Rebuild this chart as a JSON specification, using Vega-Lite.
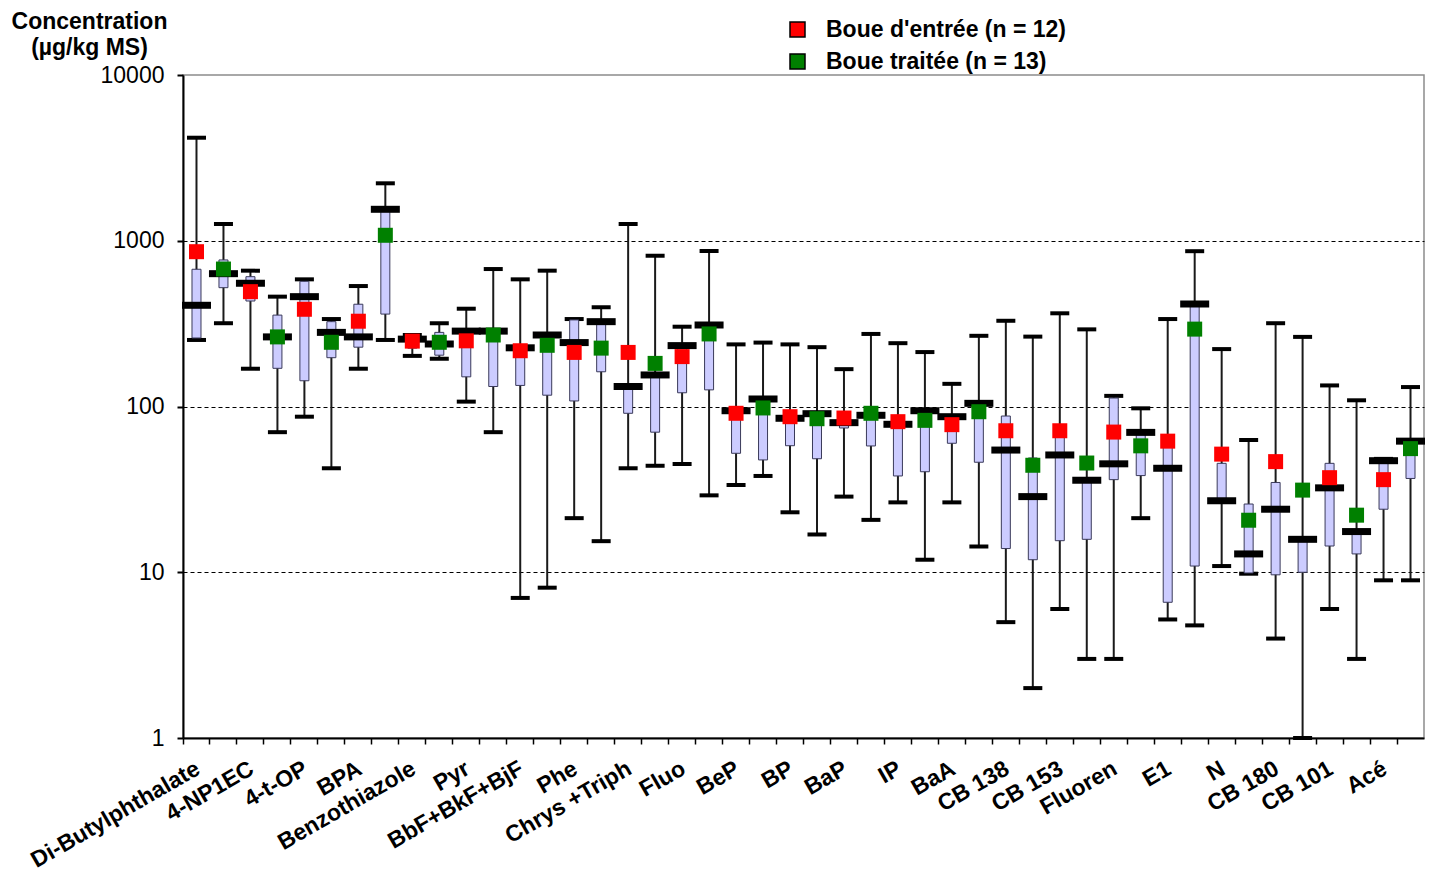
{
  "$schema": "https://vega.github.io/schema/vega-lite/v6.json",
  "width": 1241,
  "height": 663,
  "autosize": {"type": "none"},
  "padding": {"left": 183, "top": 75, "right": 9, "bottom": 144},
  "background": "white",
  "config": {"font": "Liberation Sans", "view": {"stroke": "#8c8c8c", "strokeWidth": 1.5}},
  "data": {"values": [
    {"cat": "Di-Butylphthalate", "g": "Boue d'entrée (n = 12)", "min": 252, "lo": 259, "med": 408, "hi": 673, "max": 4184, "mean": 859},
    {"cat": "Di-Butylphthalate", "g": "Boue traitée (n = 13)", "min": 318, "lo": 521, "med": 633, "hi": 766, "max": 1262, "mean": 675},
    {"cat": "4-NP1EC", "g": "Boue d'entrée (n = 12)", "min": 169, "lo": 433, "med": 554, "hi": 607, "max": 660, "mean": 493},
    {"cat": "4-NP1EC", "g": "Boue traitée (n = 13)", "min": 70, "lo": 170, "med": 263, "hi": 356, "max": 460, "mean": 263},
    {"cat": "4-t-OP", "g": "Boue d'entrée (n = 12)", "min": 86.8, "lo": 143, "med": 460, "hi": 569, "max": 585, "mean": 386},
    {"cat": "4-t-OP", "g": "Boue traitée (n = 13)", "min": 42.4, "lo": 197, "med": 280, "hi": 325, "max": 337, "mean": 244},
    {"cat": "BPA", "g": "Boue d'entrée (n = 12)", "min": 169, "lo": 228, "med": 263, "hi": 414, "max": 533, "mean": 327},
    {"cat": "BPA", "g": "Boue traitée (n = 13)", "min": 252, "lo": 361, "med": 1548, "hi": 1548, "max": 2221, "mean": 1079},
    {"cat": "Benzothiazole", "g": "Boue d'entrée (n = 12)", "min": 202, "lo": 225, "med": 255, "hi": 263, "max": 270, "mean": 248},
    {"cat": "Benzothiazole", "g": "Boue traitée (n = 13)", "min": 194, "lo": 204, "med": 238, "hi": 280, "max": 318, "mean": 244},
    {"cat": "Pyr", "g": "Boue d'entrée (n = 12)", "min": 107, "lo": 151, "med": 285, "hi": 285, "max": 389, "mean": 249},
    {"cat": "Pyr", "g": "Boue traitée (n = 13)", "min": 70, "lo": 132, "med": 285, "hi": 285, "max": 675, "mean": 270},
    {"cat": "BbF+BkF+BjF", "g": "Boue d'entrée (n = 12)", "min": 7.0, "lo": 134, "med": 226, "hi": 226, "max": 585, "mean": 217},
    {"cat": "BbF+BkF+BjF", "g": "Boue traitée (n = 13)", "min": 8.07, "lo": 117, "med": 270, "hi": 270, "max": 660, "mean": 234},
    {"cat": "Phe", "g": "Boue d'entrée (n = 12)", "min": 21.2, "lo": 108, "med": 243, "hi": 333, "max": 337, "mean": 212},
    {"cat": "Phe", "g": "Boue traitée (n = 13)", "min": 15.4, "lo": 162, "med": 325, "hi": 325, "max": 397, "mean": 225},
    {"cat": "Chrys +Triph", "g": "Boue d'entrée (n = 12)", "min": 42.4, "lo": 91, "med": 132, "hi": 132, "max": 1262, "mean": 212},
    {"cat": "Chrys +Triph", "g": "Boue traitée (n = 13)", "min": 43.9, "lo": 70, "med": 155, "hi": 155, "max": 812, "mean": 182},
    {"cat": "Fluo", "g": "Boue d'entrée (n = 12)", "min": 45, "lo": 121, "med": 233, "hi": 233, "max": 303, "mean": 200},
    {"cat": "Fluo", "g": "Boue traitée (n = 13)", "min": 29.1, "lo": 126, "med": 310, "hi": 310, "max": 867, "mean": 274},
    {"cat": "BeP", "g": "Boue d'entrée (n = 12)", "min": 33.6, "lo": 52.2, "med": 94.3, "hi": 94, "max": 237, "mean": 91},
    {"cat": "BeP", "g": "Boue traitée (n = 13)", "min": 38.1, "lo": 47.6, "med": 111, "hi": 110, "max": 243, "mean": 98},
    {"cat": "BP", "g": "Boue d'entrée (n = 12)", "min": 23.0, "lo": 58.0, "med": 84.9, "hi": 85, "max": 237, "mean": 86.8},
    {"cat": "BP", "g": "Boue traitée (n = 13)", "min": 16.9, "lo": 48.4, "med": 90.5, "hi": 90.5, "max": 228, "mean": 84.4},
    {"cat": "BaP", "g": "Boue d'entrée (n = 12)", "min": 28.6, "lo": 74.2, "med": 79.9, "hi": 85.2, "max": 168, "mean": 85.2},
    {"cat": "BaP", "g": "Boue traitée (n = 13)", "min": 20.7, "lo": 57.8, "med": 88.5, "hi": 88.5, "max": 274, "mean": 91},
    {"cat": "IP", "g": "Boue d'entrée (n = 12)", "min": 26.4, "lo": 38.1, "med": 78.1, "hi": 78, "max": 241, "mean": 81},
    {"cat": "IP", "g": "Boue traitée (n = 13)", "min": 11.9, "lo": 40.4, "med": 94.3, "hi": 94, "max": 213, "mean": 82.5},
    {"cat": "BaA", "g": "Boue d'entrée (n = 12)", "min": 26.4, "lo": 60, "med": 86.8, "hi": 87, "max": 137, "mean": 77.7},
    {"cat": "BaA", "g": "Boue traitée (n = 13)", "min": 14.3, "lo": 46.1, "med": 104.5, "hi": 104, "max": 267, "mean": 93},
    {"cat": "CB 138", "g": "Boue d'entrée (n = 12)", "min": 5.0, "lo": 13.9, "med": 54.6, "hi": 87.6, "max": 329, "mean": 71.4},
    {"cat": "CB 138", "g": "Boue traitée (n = 13)", "min": 2.0, "lo": 11.9, "med": 28.6, "hi": 48.9, "max": 264, "mean": 44.2},
    {"cat": "CB 153", "g": "Boue d'entrée (n = 12)", "min": 6.0, "lo": 15.5, "med": 51, "hi": 69.2, "max": 365, "mean": 71.4},
    {"cat": "CB 153", "g": "Boue traitée (n = 13)", "min": 3.0, "lo": 15.8, "med": 35.9, "hi": 37, "max": 292, "mean": 45.6},
    {"cat": "Fluoren", "g": "Boue d'entrée (n = 12)", "min": 3.0, "lo": 36.2, "med": 45.1, "hi": 112.5, "max": 115.9, "mean": 70.1},
    {"cat": "Fluoren", "g": "Boue traitée (n = 13)", "min": 21.2, "lo": 38.3, "med": 69.8, "hi": 70, "max": 97.5, "mean": 57.9},
    {"cat": "E1", "g": "Boue d'entrée (n = 12)", "min": 5.19, "lo": 6.59, "med": 42.4, "hi": 60.2, "max": 337, "mean": 61.8},
    {"cat": "E1", "g": "Boue traitée (n = 13)", "min": 4.78, "lo": 10.9, "med": 416, "hi": 416, "max": 865, "mean": 293},
    {"cat": "N", "g": "Boue d'entrée (n = 12)", "min": 10.9, "lo": 27.7, "med": 27, "hi": 45.4, "max": 222, "mean": 51.6},
    {"cat": "N", "g": "Boue traitée (n = 13)", "min": 9.8, "lo": 9.9, "med": 12.9, "hi": 25.8, "max": 62.8, "mean": 20.6},
    {"cat": "CB 180", "g": "Boue d'entrée (n = 12)", "min": 3.98, "lo": 9.65, "med": 24, "hi": 34.8, "max": 318, "mean": 46.5},
    {"cat": "CB 180", "g": "Boue traitée (n = 13)", "min": 1, "lo": 10, "med": 15.8, "hi": 15.9, "max": 263, "mean": 31.3},
    {"cat": "CB 101", "g": "Boue d'entrée (n = 12)", "min": 6.0, "lo": 14.4, "med": 32.3, "hi": 45.4, "max": 134, "mean": 37.2},
    {"cat": "CB 101", "g": "Boue traitée (n = 13)", "min": 3.0, "lo": 12.9, "med": 17.6, "hi": 17.7, "max": 109, "mean": 22.1},
    {"cat": "Acé", "g": "Boue d'entrée (n = 12)", "min": 8.94, "lo": 24, "med": 47.1, "hi": 47.1, "max": 48.3, "mean": 36.2},
    {"cat": "Acé", "g": "Boue traitée (n = 13)", "min": 8.94, "lo": 36.8, "med": 61.8, "hi": 62, "max": 131, "mean": 55.7}
  ]},
  "transform": [{"calculate": "datum.cat + '|' + datum.g", "as": "key"}],
  "layer": [
    {
      "mark": {"type": "rule", "color": "#1a1a1a", "strokeWidth": 2},
      "encoding": {
        "x": {
          "field": "key", "type": "nominal", "sort": null,
          "scale": {"type": "band", "paddingInner": 0, "paddingOuter": 0},
          "axis": {
            "orient": "bottom", "title": null, "domainColor": "black", "domainWidth": 2,
            "bandPosition": 0,
            "tickColor": "black", "tickSize": 6, "tickWidth": 1.5,
            "labelAngle": -30, "labelAlign": "right", "labelBaseline": "top",
            "labelFontSize": 23, "labelFontWeight": "bold", "labelColor": "black",
            "labelPadding": 13, "labelOffset": -4, "labelOverlap": false, "labelBound": false, "labelLimit": 0,
            "labelExpr": "indexof(datum.value, 'entrée') > 0 ? split(datum.value, '|')[0] : ''"
          }
        },
        "y": {
          "field": "min", "type": "quantitative",
          "scale": {"type": "log", "domain": [1, 10000], "nice": false},
          "axis": {
            "values": [1, 10, 100, 1000, 10000], "format": "d",
            "grid": true, "gridColor": "black", "gridDash": [4, 3], "gridWidth": 1.2,
            "gridOpacity": {"condition": {"test": "datum.value == 1 || datum.value == 10000", "value": 0}, "value": 1},
            "domainColor": "black", "domainWidth": 2,
            "tickColor": "black", "tickSize": 6, "tickWidth": 2,
            "labelFontSize": 23, "labelColor": "black", "labelPadding": 13,
            "title": ["Concentration", "(µg/kg MS)"], "titleAngle": 0,
            "titleFontSize": 23, "titleFontWeight": "bold", "titleColor": "black",
            "titleAlign": "center", "titleBaseline": "top",
            "titleX": -94, "titleY": -65, "titleLineHeight": 26
          }
        },
        "y2": {"field": "max"}
      }
    },
    {
      "mark": {"type": "tick", "color": "black", "size": 19, "thickness": 4, "orient": "horizontal", "opacity": 1},
      "encoding": {
        "x": {"field": "key", "type": "nominal", "sort": null},
        "y": {"field": "min", "type": "quantitative"}
      }
    },
    {
      "mark": {"type": "tick", "color": "black", "size": 19, "thickness": 4, "orient": "horizontal", "opacity": 1},
      "encoding": {
        "x": {"field": "key", "type": "nominal", "sort": null},
        "y": {"field": "max", "type": "quantitative"}
      }
    },
    {
      "mark": {"type": "bar", "width": 9, "fill": "#CCCCFF", "stroke": "#3a3a5a", "strokeWidth": 1, "opacity": 1},
      "encoding": {
        "x": {"field": "key", "type": "nominal", "sort": null},
        "y": {"field": "lo", "type": "quantitative"},
        "y2": {"field": "hi"}
      }
    },
    {
      "mark": {"type": "tick", "color": "black", "size": 29, "thickness": 7, "orient": "horizontal", "opacity": 1},
      "encoding": {
        "x": {"field": "key", "type": "nominal", "sort": null},
        "y": {"field": "med", "type": "quantitative"}
      }
    },
    {
      "mark": {"type": "square", "size": 225, "filled": true, "opacity": 1},
      "encoding": {
        "x": {"field": "key", "type": "nominal", "sort": null},
        "y": {"field": "mean", "type": "quantitative"},
        "color": {
          "field": "g", "type": "nominal",
          "scale": {"domain": ["Boue d'entrée (n = 12)", "Boue traitée (n = 13)"], "range": ["#FF0000", "#008000"]},
          "legend": {
            "title": null, "orient": "none", "legendX": 603, "legendY": -57,
            "symbolType": "square", "symbolSize": 225, "symbolStrokeColor": "black", "symbolStrokeWidth": 1.5,
            "labelFontSize": 23, "labelFontWeight": "bold", "labelColor": "black", "labelLimit": 0,
            "labelOffset": 17, "rowPadding": 8
          }
        }
      }
    }
  ]
}
